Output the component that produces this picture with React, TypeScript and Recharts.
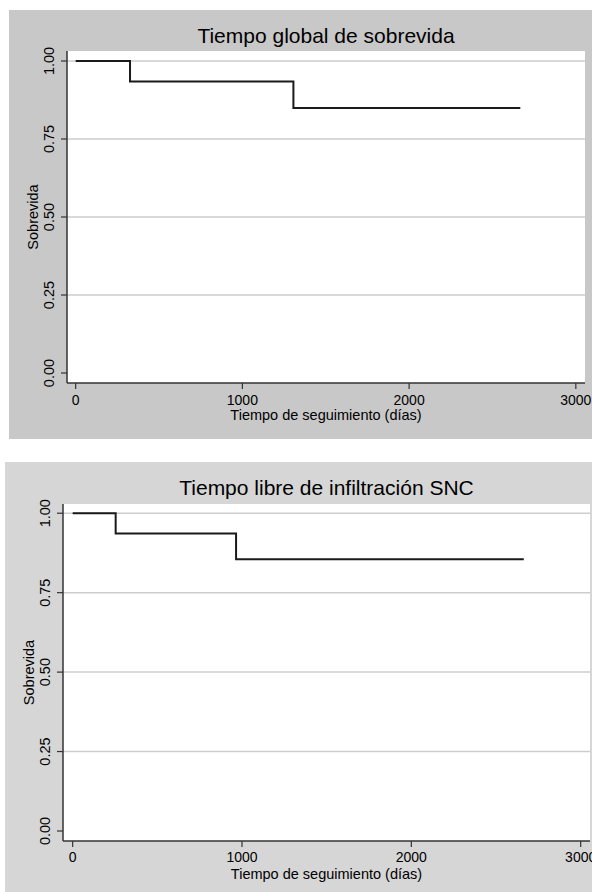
import React from "react";
import { LineChart, Line, XAxis, YAxis, CartesianGrid, ReferenceLine } from "recharts";

const OS_DAYS = [0, 326, 1306, 2667];
const OS_SURV = [1, 0.934, 0.849, 0.849];
const SNC_DAYS = [0, 254, 965, 2664];
const SNC_SURV = [1, 0.936, 0.855, 0.855];
const X_TICKS = [0, 1000, 2000, 3000];
const Y_TICKS = [0, 0.25, 0.5, 0.75, 1];
const GRID_VALUES = [0.25, 0.5, 0.75, 1];
const TITLE_OS = "Tiempo global de sobrevida";
const TITLE_SNC = "Tiempo libre de infiltración SNC";
const X_LABEL = "Tiempo de seguimiento (días)";
const Y_LABEL = "Sobrevida";

const FONT = "'Liberation Sans', Arial, sans-serif";

const YTick = (props: any) => {
  const { x, y, payload } = props;
  return (
    <text
      x={x}
      y={y}
      transform={`rotate(-90 ${x} ${y})`}
      textAnchor="middle"
      fontSize={14.5}
      fill="#000"
      fontFamily={FONT}
    >
      {Number(payload.value).toFixed(2)}
    </text>
  );
};

type PanelProps = {
  days: number[];
  surv: number[];
  title: string;
  left: number;
  top: number;
  width: number;
  height: number;
  bg: string;
  marginTop: number;
  marginRight: number;
  xAxisHeight: number;
  xDomain: [number, number];
  yDomain: [number, number];
  xLabelY: number;
  tickMargin: number;
};

const Panel = (p: PanelProps) => {
  const data = p.days.map((t, i) => ({ t, s: p.surv[i] }));
  const yAxisW = 58;
  const plotLeft = yAxisW;
  const plotRight = p.width - p.marginRight;
  const plotTop = p.marginTop;
  const plotBottom = p.height - p.xAxisHeight;
  const cx = (plotLeft + plotRight) / 2;
  const cy = (plotTop + plotBottom) / 2;
  return (
    <div
      style={{
        position: "absolute",
        left: p.left,
        top: p.top,
        width: p.width,
        height: p.height,
        background: p.bg,
      }}
    >
      <LineChart
        width={p.width}
        height={p.height}
        data={data}
        margin={{ top: p.marginTop, right: p.marginRight, left: 0, bottom: 0 }}
      >
        <CartesianGrid fill="#ffffff" horizontal={false} vertical={false} stroke="none" />
        {GRID_VALUES.map((v) => (
          <ReferenceLine key={v} y={v} stroke="#cdcdcd" strokeWidth={1.5} ifOverflow="extendDomain" />
        ))}
        <XAxis
          dataKey="t"
          type="number"
          domain={p.xDomain}
          ticks={X_TICKS}
          allowDataOverflow
          height={p.xAxisHeight}
          tickSize={6}
          tickMargin={p.tickMargin}
          axisLine={{ stroke: "#333", strokeWidth: 1.5 }}
          tickLine={{ stroke: "#333", strokeWidth: 1.2 }}
          tick={{ fontSize: 14, fill: "#000", fontFamily: FONT }}
          interval={0}
        />
        <YAxis
          type="number"
          domain={p.yDomain}
          ticks={Y_TICKS}
          allowDataOverflow
          width={yAxisW}
          tickSize={6}
          tickMargin={7}
          axisLine={{ stroke: "#333", strokeWidth: 1.5 }}
          tickLine={{ stroke: "#333", strokeWidth: 1.2 }}
          tick={<YTick />}
          interval={0}
        />
        <Line
          type="stepAfter"
          dataKey="s"
          stroke="#1a1a1a"
          strokeWidth={2}
          dot={false}
          isAnimationActive={false}
        />
        <text x={cx} y={33} textAnchor="middle" fontSize={21} fill="#000" fontFamily={FONT}>
          {p.title}
        </text>
        <text x={cx} y={p.xLabelY} textAnchor="middle" fontSize={14.5} fill="#000" fontFamily={FONT}>
          {X_LABEL}
        </text>
        <text
          x={29}
          y={cy}
          transform={`rotate(-90 29 ${cy})`}
          textAnchor="middle"
          fontSize={14.5}
          fill="#000"
          fontFamily={FONT}
        >
          {Y_LABEL}
        </text>
      </LineChart>
    </div>
  );
};

export default function App() {
  return (
    <div style={{ position: "absolute", left: 0, top: 0, width: 592, height: 892, background: "#fff", overflow: "hidden" }}>
      <Panel
        days={OS_DAYS}
        surv={OS_SURV}
        title={TITLE_OS}
        left={9}
        top={10}
        width={583}
        height={429}
        bg="#c8c8c8"
        marginTop={41}
        marginRight={7}
        xAxisHeight={56}
        xDomain={[-52, 3055]}
        yDomain={[-0.032, 1.032]}
        xLabelY={410}
        tickMargin={6}
      />
      <Panel
        days={SNC_DAYS}
        surv={SNC_SURV}
        title={TITLE_SNC}
        left={5}
        top={462}
        width={587}
        height={430}
        bg="#d6d6d6"
        marginTop={42}
        marginRight={2}
        xAxisHeight={51}
        xDomain={[-57, 3055]}
        yDomain={[-0.0315, 1.029]}
        xLabelY={417}
        tickMargin={5}
      />
    </div>
  );
}
